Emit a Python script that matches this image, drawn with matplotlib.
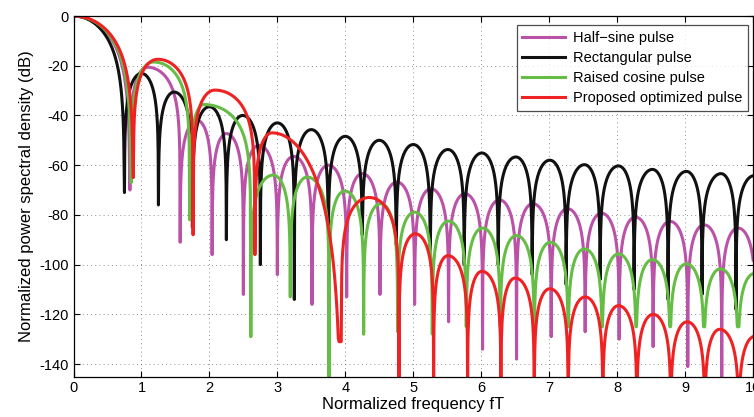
import numpy as np
import matplotlib as mpl
mpl.use('Agg')
from matplotlib import pyplot as plt

plt.rcParams['font.family'] = ['Liberation Sans', 'DejaVu Sans']
plt.rcParams['axes.unicode_minus'] = False

# lobe nulls (fT), depth at each null (dB), lobe peaks (fT, dB)
half_nulls = [0.83, 1.57, 2.04, 2.5, 3.0, 3.51, 4.02, 4.51, 5.02, 5.52, 6.02, 6.52, 7.03, 7.53, 8.03, 8.53, 9.04, 9.54, 10.04]
half_depth = [-70, -91, -96, -112, -104, -116, -113, -112, -116, -123, -134, -138, -129, -127, -130, -133, -141, -150, -150]
half_pk_f = [1.09, 1.82, 2.25, 2.73, 3.24, 3.75, 4.25, 4.76, 5.26, 5.76, 6.27, 6.76, 7.27, 7.77, 8.27, 8.78, 9.28, 9.78]
half_pk_db = [-20.6, -42.0, -47.3, -52.0, -56.5, -60.0, -63.4, -66.8, -69.5, -71.5, -74.0, -75.5, -77.5, -79.3, -80.9, -82.6, -84.0, -85.3]

rect_nulls = [0.75, 1.25, 1.75, 2.25, 2.75, 3.25, 3.75, 4.25, 4.75, 5.25, 5.75, 6.25, 6.75, 7.25, 7.75, 8.25, 8.75, 9.25, 9.75, 10.25]
rect_depth = [-71, -76, -85, -90, -100, -114, -84, -88, -92, -95, -100, -100, -104, -108, -106, -110, -114, -112, -118, -118]
rect_pk_f = [1.0, 1.48, 2.0, 2.49, 3.0, 3.5, 4.0, 4.5, 5.0, 5.51, 6.01, 6.51, 7.01, 7.52, 8.02, 8.52, 9.02, 9.53, 10.02]
rect_pk_db = [-23.1, -30.6, -36.5, -40.0, -43.0, -45.7, -48.4, -50.0, -51.7, -53.7, -55.1, -56.7, -58.0, -59.8, -60.3, -61.7, -62.5, -63.4, -64.2]

rc_nulls = [0.85, 1.71, 2.61, 3.19, 3.76, 4.27, 4.77, 5.28, 5.78, 6.28, 6.78, 7.28, 7.78, 8.28, 8.78, 9.28, 9.78, 10.28]
rc_depth = [-67, -82, -129, -113, -150, -128, -127, -128, -125, -125, -125, -125, -125, -125, -125, -125, -125, -125]
rc_pk_f = [1.18, 1.92, 2.94, 3.44, 3.99, 4.52, 5.02, 5.52, 6.02, 6.52, 7.02, 7.52, 8.02, 8.52, 9.02, 9.52, 10.02]
rc_pk_db = [-18.5, -35.6, -64.0, -64.8, -70.4, -75.5, -78.9, -82.5, -85.3, -88.3, -91.0, -93.7, -95.7, -98.0, -99.7, -101.7, -103.6]

opt_nulls = [0.88, 1.76, 2.67, 3.94, 4.79, 5.30, 5.80, 6.29, 6.78, 7.28, 7.79, 8.29, 8.79, 9.29, 9.79, 10.29]
opt_depth = [-65, -88, -96, -131, -150, -150, -150, -150, -150, -150, -150, -150, -150, -150, -150, -150]
opt_pk_f = [1.24, 2.08, 2.92, 4.35, 5.03, 5.51, 6.01, 6.5, 7.01, 7.53, 8.02, 8.53, 9.03, 9.51, 10.03]
opt_pk_db = [-17.4, -29.8, -47.0, -73.0, -87.6, -96.4, -102.7, -105.4, -109.7, -113.0, -116.5, -120.0, -123.0, -126.0, -128.8]

labels = ['Half\u2212sine pulse', 'Rectangular pulse', 'Raised cosine pulse', 'Proposed optimized pulse']
colors = ['#BA52A8', '#111111', '#66BD45', '#EE2222']


def build_curve(nulls, depth, pk_f, pk_db, fall=None):
    fall = fall or {}
    # main lobe
    f = np.linspace(0, nulls[0], 150, endpoint=False)
    db = 1.5 * 20 * np.log10(np.cos(np.pi * f / (2 * nulls[0])))
    fs = [f, [nulls[0]]]
    ds = [np.maximum(db, depth[0]), [depth[0]]]
    for i in range(len(pk_f)):
        a, b, p = nulls[i], nulls[i + 1], pk_f[i]
        f = np.linspace(a, b, 120)[1:-1]
        t = np.where(f < p, 0.5 * (f - a) / (p - a), 0.5 + 0.5 * (f - p) / (b - p))
        k = np.where(f < p, 1.0, fall.get(i, 1.0))
        db = pk_db[i] + k * 20 * np.log10(np.sin(np.pi * t))
        db = np.maximum(db, min(depth[i], depth[i + 1]))
        fs += [f, [b]]
        ds += [db, [depth[i + 1]]]
    return np.concatenate(fs), np.concatenate(ds)


curves = [
    build_curve(half_nulls, half_depth, half_pk_f, half_pk_db),
    build_curve(rect_nulls, rect_depth, rect_pk_f, rect_pk_db),
    build_curve(rc_nulls, rc_depth, rc_pk_f, rc_pk_db),
    build_curve(opt_nulls, opt_depth, opt_pk_f, opt_pk_db, fall={2: 3.5}),
]

fig = plt.figure(figsize=(7.54, 4.17), dpi=100)
ax = fig.add_axes([73.5 / 754, 1 - 376.5 / 417, (753 - 73.5) / 754, (376.5 - 16) / 417])

for (f, db), c, lab in zip(curves, colors, labels):
    ax.plot(f, db, color=c, lw=2.2, label=lab, solid_joinstyle='round')

ax.set_xlim(0, 10)
ax.set_ylim(-145, 0)
ax.set_xticks(range(0, 11))
ax.set_yticks(range(-140, 1, 20))
ax.grid(True, color='#333333', linestyle=(0, (1, 4)), lw=0.6, alpha=0.7)
ax.tick_params(direction='in', top=True, right=True, length=4, labelsize=10.5, width=0.8)
for s in ax.spines.values():
    s.set_linewidth(0.9)
ax.set_xlabel('Normalized frequency fT', fontsize=12, labelpad=1)
ax.set_ylabel('Normalized power spectral density (dB)', fontsize=12, labelpad=4)

leg = ax.legend(loc='upper right', bbox_to_anchor=(0.9926, 0.975), fontsize=10.5, frameon=True,
                fancybox=False, edgecolor='#222222', handlelength=2.95, borderpad=0.4,
                labelspacing=0.42, handletextpad=0.5, borderaxespad=0.0)
leg.get_frame().set_linewidth(0.9)

fig.savefig('out.png', dpi=100)
